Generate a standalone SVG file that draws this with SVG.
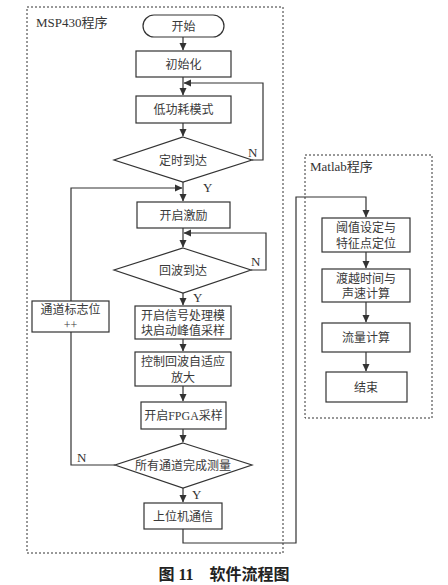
<svg xmlns="http://www.w3.org/2000/svg" width="448" height="585" viewBox="0 0 448 585">
<defs>
<marker id="ah" markerWidth="8" markerHeight="9" refX="7" refY="4.5" orient="auto" markerUnits="userSpaceOnUse"><path d="M0,1 L7.5,4.5 L0,8 Z" fill="#333"/></marker>
<style>
.b{fill:#fff;stroke:#333;stroke-width:1.2}
.d{fill:none;stroke:#333;stroke-width:1;stroke-dasharray:2 2}
.t{font-family:"Liberation Serif","Noto Sans CJK SC",serif;font-size:12px;fill:#3a3a3a;text-anchor:middle}
.l{font-family:"Liberation Serif","Noto Sans CJK SC",serif;font-size:13px;fill:#333}
.c{fill:none;stroke:#333;stroke-width:1.2}
</style>
</defs>
<rect width="448" height="585" fill="#fff"/>
<g id="msp430-frame"><rect class="d" x="27" y="7" width="256" height="546"/><text class="l" x="36" y="27" font-size="12">MSP430程序</text></g>
<g id="matlab-frame"><rect class="d" x="305" y="155" width="127" height="263"/><text class="l" x="310" y="171" font-size="12">Matlab程序</text></g>
<g id="connectors">
<path class="c" d="M183,37V50" marker-end="url(#ah)"/>
<path class="c" d="M183,77V95" marker-end="url(#ah)"/>
<path class="c" d="M183,123V136" marker-end="url(#ah)"/>
<path class="c" d="M252,160H263V83H184" marker-end="url(#ah)"/>
<path class="c" d="M183,182V201" marker-end="url(#ah)"/>
<path class="c" d="M115,465H71V188H182" marker-end="url(#ah)"/>
<path class="c" d="M183,228V247" marker-end="url(#ah)"/>
<path class="c" d="M251,270H266V233H184" marker-end="url(#ah)"/>
<path class="c" d="M183,293V305" marker-end="url(#ah)"/>
<path class="c" d="M183,339V351" marker-end="url(#ah)"/>
<path class="c" d="M183,386V401" marker-end="url(#ah)"/>
<path class="c" d="M183,429V442" marker-end="url(#ah)"/>
<path class="c" d="M183,488V502" marker-end="url(#ah)"/>
<path class="c" d="M183,529V543H296V197H366V217" marker-end="url(#ah)"/>
<path class="c" d="M366,252V268" marker-end="url(#ah)"/>
<path class="c" d="M366,302V322" marker-end="url(#ah)"/>
<path class="c" d="M366,352V371" marker-end="url(#ah)"/>
<text class="l" x="248" y="157">N</text>
<text class="l" x="203" y="192">Y</text>
<text class="l" x="251" y="266">N</text>
<text class="l" x="193" y="302">Y</text>
<text class="l" x="77" y="462">N</text>
<text class="l" x="192" y="499">Y</text>
</g>
<g id="start"><rect class="b" x="143" y="15" width="81" height="22" rx="11"/><text class="t" x="183.5" y="30.5">开始</text></g>
<g id="init"><rect class="b" x="136" y="51" width="95" height="26"/><text class="t" x="183.5" y="68.5">初始化</text></g>
<g id="lowpower"><rect class="b" x="136" y="96" width="95" height="27"/><text class="t" x="183.5" y="114">低功耗模式</text></g>
<g id="timer"><polygon class="b" points="183,137 252,160 183,182 114,160"/><text class="t" x="183" y="164.5">定时到达</text></g>
<g id="excite"><rect class="b" x="137" y="202" width="93" height="26"/><text class="t" x="183.5" y="219.5">开启激励</text></g>
<g id="echo"><polygon class="b" points="183,248 251,270 183,293 114,270"/><text class="t" x="183" y="274.5">回波到达</text></g>
<g id="signal"><rect class="b" x="135" y="306" width="96" height="33"/><text class="t" x="183" y="320">开启信号处理模</text><text class="t" x="183" y="335">块启动峰值采样</text></g>
<g id="adaptive"><rect class="b" x="135" y="352" width="96" height="34"/><text class="t" x="183" y="366">控制回波自适应</text><text class="t" x="183" y="382">放大</text></g>
<g id="fpga"><rect class="b" x="141" y="402" width="85" height="27"/><text class="t" x="183.5" y="420">开启FPGA采样</text></g>
<g id="allch"><polygon class="b" points="183,443 252,465 183,488 115,465"/><text class="t" x="183" y="469.5">所有通道完成测量</text></g>
<g id="host"><rect class="b" x="144" y="503" width="78" height="26"/><text class="t" x="183" y="520.5">上位机通信</text></g>
<g id="chflag"><rect class="b" x="32" y="301" width="77" height="31"/><text class="t" x="70.5" y="314">通道标志位</text><text class="t" x="70.5" y="329">++</text></g>
<g id="threshold"><rect class="b" x="322" y="218" width="88" height="34"/><text class="t" x="366" y="232">阈值设定与</text><text class="t" x="366" y="248">特征点定位</text></g>
<g id="tof"><rect class="b" x="322" y="269" width="88" height="33"/><text class="t" x="366" y="283">渡越时间与</text><text class="t" x="366" y="298">声速计算</text></g>
<g id="flow"><rect class="b" x="322" y="323" width="88" height="29"/><text class="t" x="366" y="342">流量计算</text></g>
<g id="end"><rect class="b" x="326" y="372" width="81" height="30"/><text class="t" x="366" y="391.5">结束</text></g>
<g id="caption"><text x="224" y="580" text-anchor="middle" font-family="'Liberation Serif','Noto Sans CJK SC',serif" font-size="16" font-weight="bold" fill="#222">图 11　软件流程图</text></g>
</svg>
